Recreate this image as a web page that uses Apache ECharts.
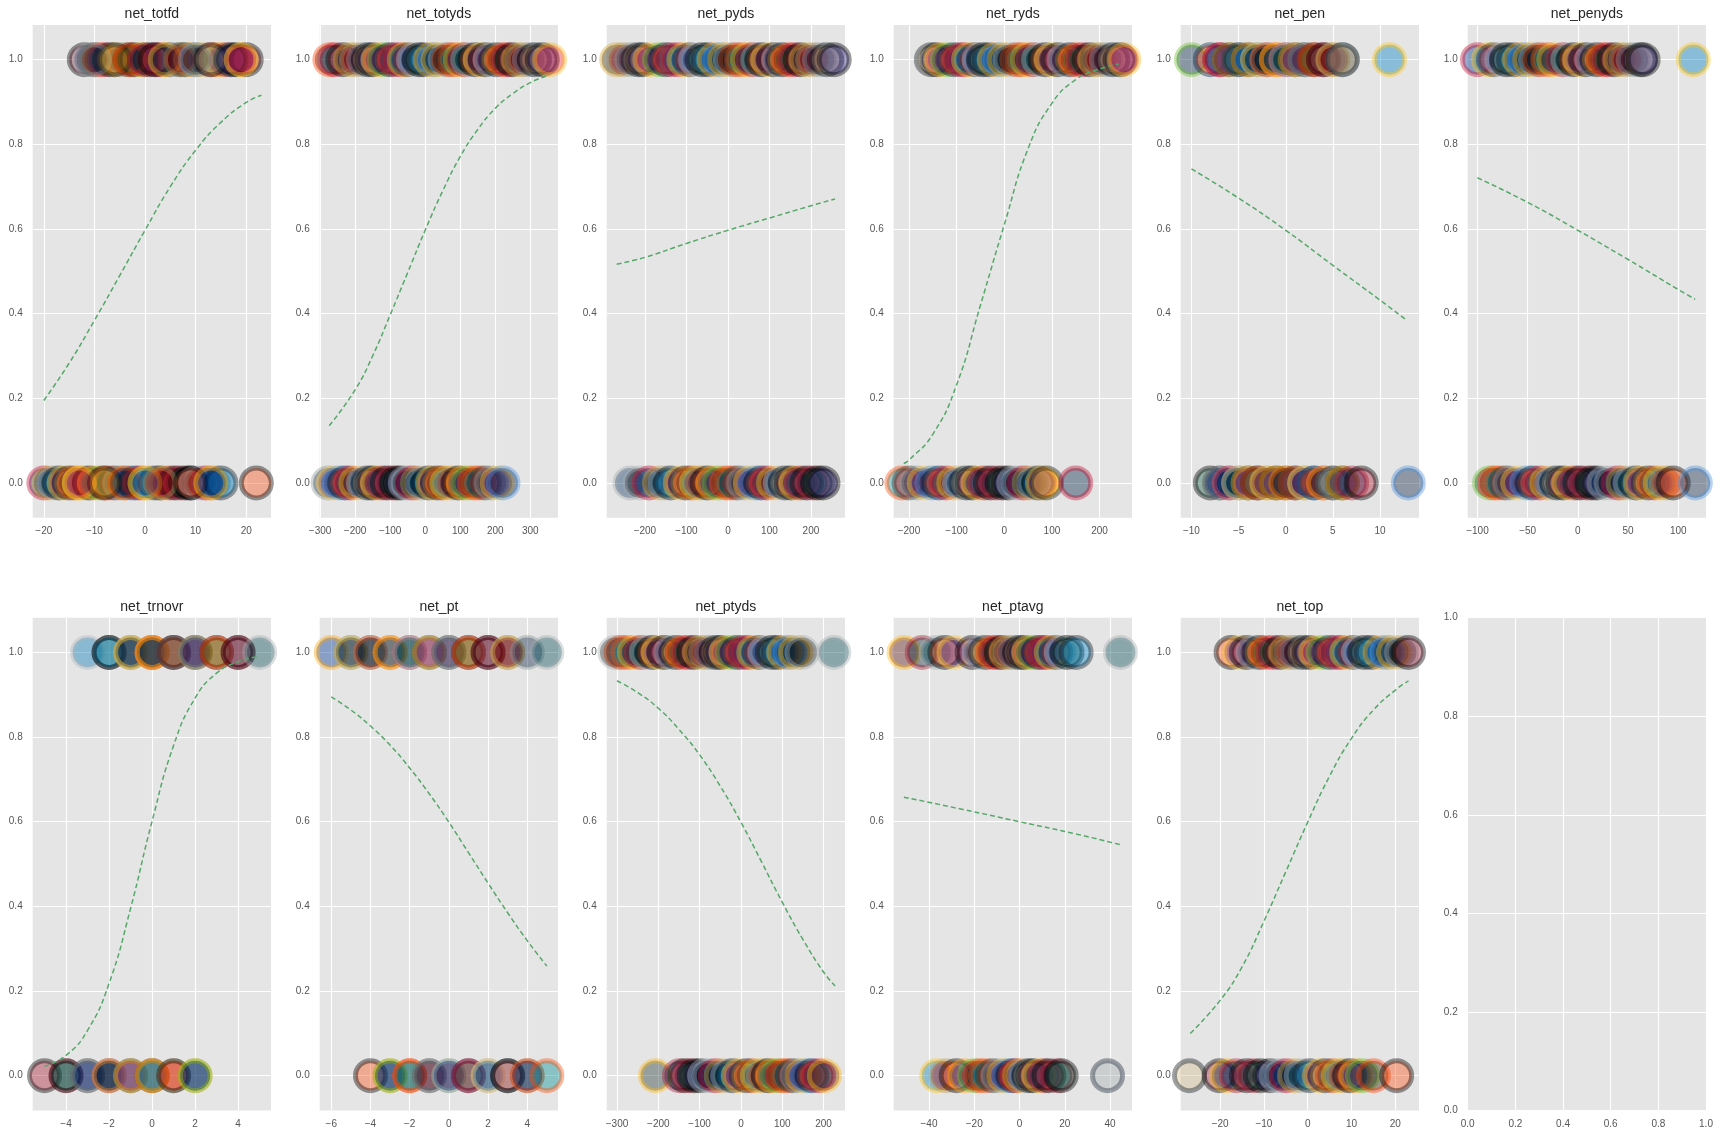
<!DOCTYPE html>
<html><head><meta charset="utf-8">
<script src="https://cdn.jsdelivr.net/npm/echarts@6/dist/echarts.min.js"></script>
<style>html,body{margin:0;padding:0;background:#fff}#c{width:1721px;height:1138px}</style>
</head><body><div id="c"></div>
<script>
// ---------- data ----------
const titles = ['net_totfd','net_totyds','net_pyds','net_ryds','net_pen','net_penyds','net_trnovr','net_pt','net_ptyds','net_ptavg','net_top'];

const totfdWin  = [-12,-11,-10,-9,-8,-7,-6,-5,-4,-3,-2,-1,0,1,2,3,4,5,6,7,8,9,10,11,12,13,14,15,16,17,18,19,20,-10,-6,-3,0,2,4,7,10,13,17,19];
const totfdLoss = [-20,-19,-18,-17,-16,-15,-14,-13,-12,-11,-10,-9,-8,-7,-6,-5,-4,-3,-2,-1,0,1,2,3,4,5,6,7,8,9,10,11,12,13,14,15,-13,-8,-4,0,3,9,13,22];
const totfdFit  = [[-20,0.195],[-15,0.283],[-10,0.384],[-5,0.49],[0,0.597],[5,0.70],[10,0.786],[15,0.852],[20,0.899],[23,0.916]];

const totydsWin  = [-272,-258,-235,-214,-196,-176,-163,-150,-134,-118,-101,-88,-70,-60,-49,-33,-17,-4,15,27,36,57,68,84,100,112,121,142,157,171,185,203,222,236,248,266,280,297,312,334,355];
const totydsLoss = [-277,-262,-246,-229,-214,-198,-176,-164,-150,-137,-123,-108,-94,-82,-70,-57,-49,-36,-22,-8,10,21,35,48,62,77,95,108,122,140,153,170,188,205,222];
const totydsFit  = [[-274,0.135],[-200,0.22],[-150,0.30],[-100,0.397],[-50,0.497],[0,0.597],[50,0.69],[100,0.771],[150,0.835],[200,0.885],[250,0.92],[300,0.946],[344,0.961]];

const pydsWin  = [-268,-251,-232,-216,-205,-188,-165,-150,-137,-120,-106,-92,-78,-62,-48,-33,-20,-8,6,18,33,47,60,72,81,96,110,122,131,146,160,174,188,204,220,238,256];
const pydsLoss = [-236,-212,-190,-165,-152,-138,-115,-102,-88,-76,-66,-50,-36,-22,-4,8,22,38,54,66,80,94,110,126,138,152,163,175,190,204,216,229];
const pydsFit  = [[-268,0.517],[-200,0.533],[-100,0.566],[0,0.597],[100,0.626],[200,0.655],[258,0.671]];

const rydsWin  = [-153,-142,-134,-120,-106,-94,-84,-75,-62,-53,-44,-32,-21,-10,0,12,26,37,48,60,72,86,99,112,126,138,150,164,178,190,200,214,228,243,251];
const rydsLoss = [-215,-200,-184,-168,-152,-137,-122,-106,-94,-80,-68,-55,-42,-29,-16,-4,8,20,30,41,52,62,72,80,88,150];
const rydsFit  = [[-211,0.046],[-200,0.054],[-150,0.115],[-100,0.232],[-50,0.42],[0,0.61],[50,0.79],[100,0.897],[150,0.953],[200,0.978],[240,0.99]];

const penWin  = [-10,-8,-7,-7,-6,-6,-5,-5,-4,-4,-3,-3,-2,-2,-1,-1,0,0,1,1,2,2,3,3,4,4,5,5,6,6,11];
const penLoss = [-8,-7,-7,-6,-6,-5,-5,-4,-4,-3,-3,-2,-2,-1,-1,0,0,1,1,2,2,3,3,4,4,5,5,6,6,7,8,13];
const penFit  = [[-10,0.742],[-5,0.673],[0,0.597],[5,0.514],[10,0.432],[12.9,0.383]];

const penydsWin  = [-100,-89,-84,-76,-71,-64,-58,-53,-48,-42,-38,-30,-24,-15,-10,-4,2,8,14,19,25,30,36,42,48,55,62,65,115];
const penydsLoss = [-88,-83,-78,-72,-68,-60,-51,-45,-38,-31,-26,-21,-15,-9,-3,2,9,14,19,26,33,40,45,52,58,62,70,76,82,88,95,117];
const penydsFit  = [[-100,0.721],[-50,0.663],[0,0.597],[50,0.528],[100,0.457],[116.8,0.434]];

const trnovrWin  = [-3,-2,-2,-1,-1,-1,0,0,0,0,1,1,1,2,2,2,3,3,4,4,5];
const trnovrLoss = [-5,-4,-4,-3,-3,-2,-2,-2,-1,-1,-1,0,0,0,1,1,2,2];
const trnovrFit  = [[-5,0.022],[-4,0.048],[-3,0.107],[-2,0.218],[-1,0.395],[0,0.601],[1,0.78],[2,0.892],[3,0.951],[4,0.978],[4.9,0.99]];

const ptWin  = [-6,-5,-5,-4,-4,-3,-3,-2,-2,-1,-1,0,0,1,1,2,2,3,3,4,5];
const ptLoss = [-4,-3,-3,-2,-2,-1,-1,0,0,1,1,2,2,3,3,4,4,5];
const ptFit  = [[-6,0.895],[-5,0.864],[-4,0.826],[-3,0.781],[-2,0.727],[-1,0.666],[0,0.599],[1,0.527],[2,0.455],[3,0.385],[4,0.319],[5,0.259]];

const ptydsWin  = [-305,-290,-274,-258,-242,-229,-214,-200,-186,-170,-157,-142,-128,-114,-100,-85,-72,-60,-49,-36,-22,-8,5,18,31,44,58,76,90,104,118,132,148,225];
const ptydsLoss = [-207,-149,-136,-124,-113,-100,-88,-77,-62,-48,-32,-20,-6,13,26,40,54,66,76,88,100,112,124,136,148,160,172,188,202];
const ptydsFit  = [[-300,0.933],[-250,0.905],[-200,0.868],[-150,0.818],[-100,0.758],[-50,0.684],[0,0.599],[50,0.505],[100,0.41],[150,0.322],[200,0.245],[228,0.212]];

const ptavgWin  = [-51,-43,-37,-33,-29,-21,-18,-15,-12,-10,-8,-6,-4,-2,0,2,4,6,8.5,10,12,14,16,18.4,21,25,44.6];
const ptavgLoss = [-36.6,-32.5,-28,-24.3,-20,-17.7,-15,-12,-9.5,-7,-5,-3,-1.3,0,2,4,6,8.5,11,13,16.7,18.4,38.9];
const ptavgFit  = [[-51.1,0.658],[-25,0.629],[0,0.60],[25,0.571],[44.3,0.546]];

const topWin  = [-17.5,-15.6,-14,-12.5,-11,-9.6,-8,-6.4,-5,-3.8,-2.6,-1.2,0.3,1.8,3.5,5,6.4,7.6,8.9,10.3,11.6,13,14.5,16.5,18,19.6,21.4,23];
const topLoss = [-27,-20.2,-18.5,-16.3,-14,-12.4,-10.8,-8.7,-7.2,-6,-4.9,-3,-1.5,0.4,2.7,4,5.6,7,8.2,9.6,11,12.5,15,20.3];
const topFit  = [[-26.8,0.10],[-20,0.178],[-15,0.257],[-10,0.365],[-5,0.482],[0,0.599],[5,0.708],[10,0.797],[15,0.864],[20,0.911],[23,0.933]];

// axis ranges and tick labels
const xRanges = [[-22.2,24.9],[-301,379],[-292,282],[-232,268],[-11.14,14.13],[-109.7,127.6],[-5.55,5.53],[-6.59,5.57],[-325,252],[-55.6,49.7],[-29,25.4]];
const xTicks = [
  [-20,-10,0,10,20],[-300,-200,-100,0,100,200,300],[-200,-100,0,100,200],[-200,-100,0,100,200],
  [-10,-5,0,5,10],[-100,-50,0,50,100],[-4,-2,0,2,4],[-6,-4,-2,0,2,4],
  [-300,-200,-100,0,100,200],[-40,-20,0,20,40],[-20,-10,0,10,20]
];
const yTicks = [0,0.2,0.4,0.6,0.8,1.0];
const yRange = [-0.082,1.082];

// team colours (fill, edge)
const teamColors = [
['#97233F','#000000'],['#A71930','#000000'],['#241773','#000000'],['#00338D','#C60C30'],['#0085CA','#101820'],
['#0B162A','#C83803'],['#FB4F14','#000000'],['#311D00','#FF3C00'],['#041E42','#869397'],['#FB4F14','#002244'],
['#0076B6','#B0B7BC'],['#203731','#FFB612'],['#03202F','#A71930'],['#002C5F','#A2AAAD'],['#101820','#D7A22A'],
['#E31837','#FFB81C'],['#0080C6','#FFC20E'],['#003594','#FFA300'],['#008E97','#FC4C02'],['#4F2683','#FFC62F'],
['#002244','#C60C30'],['#D3BC8D','#101820'],['#0B2265','#A71930'],['#125740','#000000'],['#000000','#A5ACAF'],
['#004C54','#A5ACAF'],['#FFB612','#101820'],['#AA0000','#B3995D'],['#002244','#69BE28'],['#D50A0A','#34302B'],
['#0C2340','#4B92DB'],['#5A1414','#FFB612'],['#A5ACAF','#1B2A3A']
];
// colour of the last-listed (outlying) point in each panel: [win, loss]
const lastTeam = [[null,6],[null,null],[null,null],[null,20],[16,30],[16,30],[25,null],[25,18],[25,null],[25,32],[0,6]];

const panels = [
  [totfdWin,totfdLoss,totfdFit],[totydsWin,totydsLoss,totydsFit],[pydsWin,pydsLoss,pydsFit],
  [rydsWin,rydsLoss,rydsFit],[penWin,penLoss,penFit],[penydsWin,penydsLoss,penydsFit],
  [trnovrWin,trnovrLoss,trnovrFit],[ptWin,ptLoss,ptFit],[ptydsWin,ptydsLoss,ptydsFit],
  [ptavgWin,ptavgLoss,ptavgFit],[topWin,topLoss,topFit]
];

// ---------- build ----------
function rgba(hex,a){const n=parseInt(hex.slice(1),16);return `rgba(${n>>16&255},${n>>8&255},${n&255},${a})`;}
const FONT = '"Liberation Sans", Arial, sans-serif';
const fmt = v => (v<0?'\u2212':'') + Math.abs(v);
const lefts = [32.7,319.7,606.7,893.7,1180.7,1467.7];
const tops = [25,617.7];
const W = 238.3, H = 492.7;

function item(x,y,ti){const t=teamColors[ti];return {value:[x,y],itemStyle:{color:rgba(t[0],0.5),borderColor:rgba(t[1],0.5)}};}

const grids=[], xAxes=[], yAxes=[], series=[], graphics=[];
for (let p=0;p<12;p++){
  const col=p%6,row=Math.floor(p/6);
  grids.push({left:lefts[col],top:tops[row],width:W,height:H,show:true,backgroundColor:'#E5E5E5',borderWidth:0,containLabel:false});
  const split={show:true,lineStyle:{color:'#ffffff',width:1.1}};
  const lab={color:'#555555',fontSize:10,fontFamily:FONT};
  if (p<11){
    xAxes.push({type:'value',gridIndex:p,min:xRanges[p][0],max:xRanges[p][1],
      axisLine:{show:false},axisTick:{show:false,customValues:xTicks[p]},splitLine:split,
      axisLabel:Object.assign({},lab,{customValues:xTicks[p],formatter:fmt,margin:9})});
    yAxes.push({type:'value',gridIndex:p,min:yRange[0],max:yRange[1],
      axisLine:{show:false},axisTick:{show:false,customValues:yTicks},splitLine:split,
      axisLabel:Object.assign({},lab,{customValues:yTicks,formatter:v=>v.toFixed(1),margin:10})});
    const [win,loss,fit]=panels[p];
    const data=[];
    win.forEach((x,i)=>{let ti=(i*13+p*7)%32; if(i===win.length-1&&lastTeam[p][0]!==null) ti=lastTeam[p][0]; data.push(item(x,1,ti));});
    loss.forEach((x,i)=>{let ti=(i*11+p*5+3)%32; if(i===loss.length-1&&lastTeam[p][1]!==null) ti=lastTeam[p][1]; data.push(item(x,0,ti));});
    series.push({type:'scatter',xAxisIndex:p,yAxisIndex:p,symbol:'circle',symbolSize:30,
      itemStyle:{borderWidth:5},data:data,silent:true,animation:false,z:2});
    series.push({type:'line',xAxisIndex:p,yAxisIndex:p,data:fit,smooth:0.5,showSymbol:false,symbol:'none',
      lineStyle:{color:'#55A868',width:1.5,type:[5,3]},silent:true,animation:false,z:3});
    graphics.push({type:'text',x:lefts[col]+W/2,y:tops[row]-10.5,silent:true,
      style:{text:titles[p],textAlign:'center',textVerticalAlign:'middle',font:'14px '+FONT,fill:'#262626'}});
  } else {
    xAxes.push({type:'value',gridIndex:p,min:0,max:1,interval:0.2,
      axisLine:{show:false},axisTick:{show:false},splitLine:split,
      axisLabel:Object.assign({},lab,{formatter:v=>v.toFixed(1),margin:9})});
    yAxes.push({type:'value',gridIndex:p,min:0,max:1,interval:0.2,
      axisLine:{show:false},axisTick:{show:false},splitLine:split,
      axisLabel:Object.assign({},lab,{formatter:v=>v.toFixed(1),margin:10})});
  }
}

const chart = echarts.init(document.getElementById('c'),null,{renderer:'canvas'});
chart.setOption({backgroundColor:'#ffffff',animation:false,grid:grids,xAxis:xAxes,yAxis:yAxes,series:series,graphic:graphics});
</script></body></html>
